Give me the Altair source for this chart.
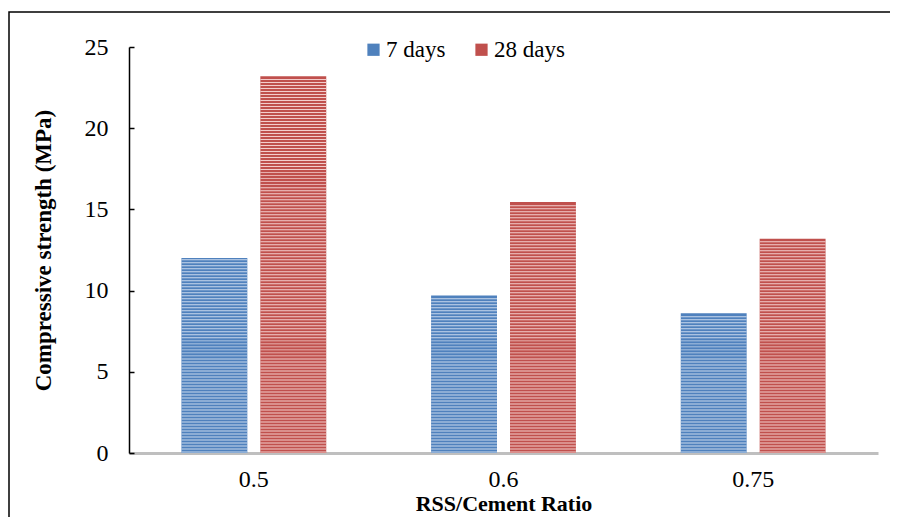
import altair as alt
import pandas as pd

ratios = ["0.5", "0.6", "0.75"]
series = ["7 days", "28 days"]
days7 = [12.0, 9.7, 8.6]
days28 = [23.2, 15.45, 13.2]
y_ticks = [0, 5, 10, 15, 20, 25]

dark = ["#4F81BD", "#C0504D"]
light = ["#C9D9EE", "#F3CDCC"]

rows = []
for r, a, b in zip(ratios, days7, days28):
    rows.append({"ratio": r, "series": series[0], "value": a, "light": light[0]})
    rows.append({"ratio": r, "series": series[1], "value": b, "light": light[1]})
df = pd.DataFrame(rows)

W, H = 749, 406
FONT = "Liberation Serif"

x_enc = alt.X(
    "ratio:N", sort=ratios,
    scale=alt.Scale(paddingInner=0.42, paddingOuter=0.21),
    axis=alt.Axis(title="RSS/Cement Ratio", labelAngle=0, ticks=False,
                  domainColor="#BFBFBF", domainWidth=3, labelPadding=14,
                  titlePadding=2, labelFont=FONT, labelFontSize=24,
                  labelColor="black", titleFont=FONT, titleFontSize=22,
                  titleFontWeight="bold", titleColor="black"),
)
xo_enc = alt.XOffset("series:N", sort=series, scale=alt.Scale(paddingInner=0.165))

bars = alt.Chart(df).mark_bar().encode(
    x=x_enc,
    xOffset=xo_enc,
    y=alt.Y("value:Q", scale=alt.Scale(domain=[0, 25], nice=False),
            axis=alt.Axis(values=y_ticks, title="Compressive strength (MPa)",
                          ticks=False, tickSize=0, grid=False, domainColor="black",
                          domainWidth=1.5, labelPadding=21, labelFont=FONT,
                          labelFontSize=24, labelColor="black", titlePadding=29,
                          titleFont=FONT, titleFontSize=23, titleFontWeight="bold",
                          titleColor="black")),
    color=alt.Color("series:N", sort=series,
                    scale=alt.Scale(domain=series, range=dark),
                    legend=alt.Legend(orient="none", legendX=233, legendY=-9,
                                      direction="horizontal", title=None,
                                      labelFont=FONT, labelFontSize=23,
                                      labelColor="black", symbolType="square",
                                      symbolSize=150, symbolStrokeWidth=0,
                                      labelOffset=1, columnPadding=24, padding=0)),
)

stripes = alt.Chart(df).transform_calculate(
    s="sequence(0.03, datum.value - 0.1, 0.185)"
).transform_flatten(["s"]).transform_calculate(
    s2="datum.s + 0.06"
).mark_bar().encode(
    x=x_enc,
    xOffset=xo_enc,
    y=alt.Y("s:Q", scale=alt.Scale(domain=[0, 25], nice=False),
            axis=alt.Axis(orient="right", offset=-W, values=y_ticks, labels=False,
                          domain=False, grid=False, ticks=True, tickSize=5,
                          tickColor="black", tickWidth=1.5, title=None)),
    y2="s2:Q",
    color=alt.Color("light:N", scale=None),
)

border = alt.Chart(pd.DataFrame({"a": [0]})).mark_rect(
    fill="white", fillOpacity=0, stroke="black", strokeWidth=1.5
).encode(x=alt.value(-120), x2=alt.value(820), y=alt.value(-35), y2=alt.value(560))

chart = alt.layer(bars, stripes, border).resolve_scale(
    y="independent", color="independent"
).properties(
    width=W, height=H,
    padding={"left": 121, "top": 39, "right": 12, "bottom": 64},
    autosize=alt.AutoSizeParams(type="none"),
).configure_view(stroke=None)

chart.save("out.html", embed_options={"renderer": "svg", "actions": False})
